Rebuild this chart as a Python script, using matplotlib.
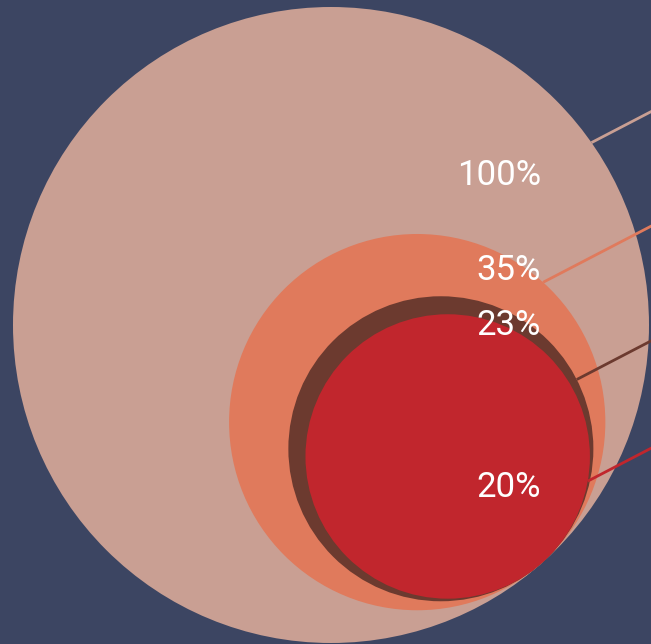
import numpy as np
import matplotlib
matplotlib.use("Agg")
import matplotlib.pyplot as plt
from matplotlib.patches import Circle

# data
labels = ["100%", "35%", "23%", "20%"]
values = [100, 35, 23, 20]
colors = ["#c99f93", "#e07a5c", "#6c3a2f", "#c1262d"]

# layout (pixel space, y down)
W, H = 651, 644
big_center = np.array([331.0, 325.0])
big_r = 318.0
tangent_dir = np.array([0.664, 0.748])
tangent_dir = tangent_dir / np.linalg.norm(tangent_dir)
edge_angles = [-35, -48, -27, 10]   # where each leader line leaves its circle
label_y = [175, 270, 325, 487]
leader_slope = -0.52

fig = plt.figure(figsize=(W / 100, H / 100), dpi=100)
fig.patch.set_facecolor("#3c4562")
ax = fig.add_axes([0, 0, 1, 1])
ax.set_facecolor("#3c4562")
ax.set_xlim(0, W)
ax.set_ylim(H, 0)
ax.set_aspect("equal")
ax.axis("off")

for i, v in enumerate(values):
    r = big_r * np.sqrt(v / values[0])
    c = big_center + (big_r - r) * tangent_dir
    ax.add_patch(Circle(c, r, facecolor=colors[i], edgecolor="none", zorder=i + 1))

    a = np.radians(edge_angles[i])
    x0 = c[0] + r * np.cos(a)
    y0 = c[1] + r * np.sin(a)
    x1 = W + 5
    y1 = y0 + leader_slope * (x1 - x0)
    ax.plot([x0, x1], [y0, y1], color=colors[i], lw=2, zorder=10, solid_capstyle="butt")

for i, lab in enumerate(labels):
    ax.text(541, label_y[i], lab, color="white", fontsize=25, fontfamily="Roboto",
            fontweight="normal", ha="right", va="center", zorder=20)

fig.savefig("out.png", dpi=100, facecolor=fig.get_facecolor())
